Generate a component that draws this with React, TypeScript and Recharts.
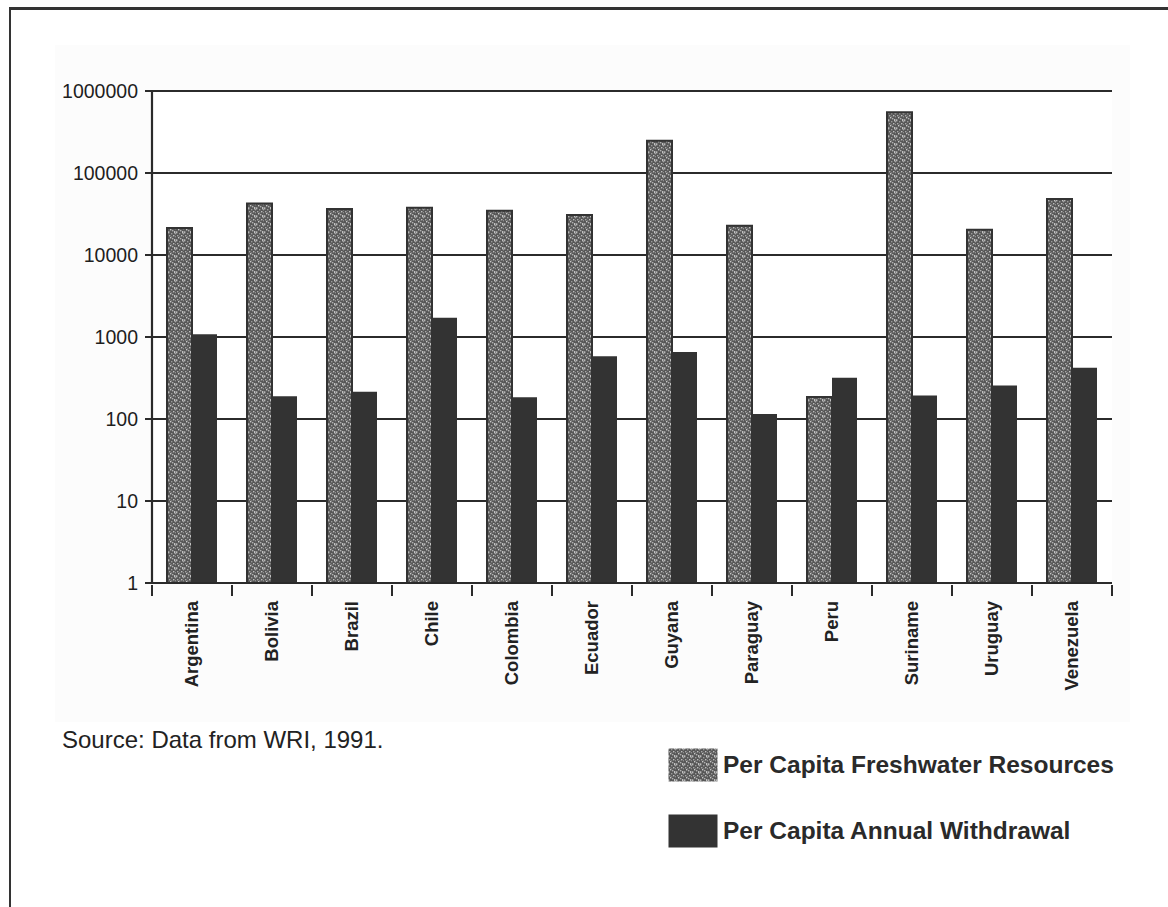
import React from "react";
import {
  BarChart,
  Bar,
  XAxis,
  YAxis,
  CartesianGrid,
} from "recharts";

// values (log scale)
const countries = [
  "Argentina",
  "Bolivia",
  "Brazil",
  "Chile",
  "Colombia",
  "Ecuador",
  "Guyana",
  "Paraguay",
  "Peru",
  "Suriname",
  "Uruguay",
  "Venezuela",
];
const freshwater = [21300, 42600, 36300, 37700, 34600, 30700, 248000, 22700, 186, 552000, 20300, 48100];
const withdrawal = [1080, 189, 215, 1720, 184, 584, 654, 115, 318, 193, 256, 422];
const yTicks = [1, 10, 100, 1000, 10000, 100000, 1000000];
const seriesNames = ["Per Capita Freshwater Resources", "Per Capita Annual Withdrawal"];
const sourceNote = "Source: Data from WRI, 1991.";

const data = countries.map((name, i) => ({
  name,
  fresh: freshwater[i],
  withdrawal: withdrawal[i],
}));

const W = 1168;
const H = 907;
const PLOT_LEFT = 152;
const PLOT_RIGHT = 1112;
const PLOT_TOP = 91;
const PLOT_BOTTOM = 583;
const X_AXIS_H = 130;
const HALF_BAND = (PLOT_RIGHT - PLOT_LEFT) / countries.length / 2;
const INK = "#2b2b2b";
const FONT = "Arial, 'Liberation Sans', sans-serif";

// speckle texture for the freshwater bars
const specks: [number, number, string][] = [
  [0, 0, "#b8b8b8"], [3, 1, "#9a9a9a"], [6, 0, "#c4c4c4"], [1, 3, "#a8a8a8"],
  [5, 3, "#bdbdbd"], [2, 5, "#c8c8c8"], [7, 4, "#8e8e8e"], [4, 6, "#b0b0b0"],
  [0, 7, "#9c9c9c"], [6, 7, "#c0c0c0"], [3, 4, "#7c7c7c"], [7, 1, "#a2a2a2"],
];

function Speckle({ id }: { id: string }) {
  return (
    <pattern id={id} width={8} height={8} patternUnits="userSpaceOnUse">
      <rect width={8} height={8} fill="#575757" />
      {specks.map(([x, y, c], i) => (
        <rect key={i} x={x} y={y} width={1.4} height={1.4} fill={c} />
      ))}
    </pattern>
  );
}

function CountryTick(props: any) {
  const { x, y, payload, index } = props;
  const last = index === countries.length - 1;
  return (
    <g>
      <line x1={x - HALF_BAND} x2={x - HALF_BAND} y1={y - 6} y2={y + 5} stroke={INK} strokeWidth={2} />
      {last && (
        <line x1={x + HALF_BAND} x2={x + HALF_BAND} y1={y - 6} y2={y + 5} stroke={INK} strokeWidth={2} />
      )}
      <text
        transform={`translate(${x + 6}, ${y + 10}) rotate(-90)`}
        textAnchor="end"
        fontFamily={FONT}
        fontWeight="bold"
        fontSize={18.5}
        fill="#222"
      >
        {payload.value}
      </text>
    </g>
  );
}

function LegendSwatch({ kind }: { kind: number }) {
  return (
    <svg width={50} height={34} style={{ display: "block" }}>
      <defs>
        <Speckle id="legendSpeckle" />
      </defs>
      <rect
        x={0.5}
        y={0.5}
        width={49}
        height={33}
        fill={kind === 0 ? "url(#legendSpeckle)" : "#333"}
      />
    </svg>
  );
}

export default function App() {
  return (
    <div
      style={{
        position: "absolute",
        left: 0,
        top: 0,
        width: W,
        height: H,
        background: "#fff",
        overflow: "hidden",
      }}
    >
      {/* faint scanned page behind the chart */}
      <div
        style={{
          position: "absolute",
          left: 55,
          top: 45,
          width: 1075,
          height: 677,
          background: "#fcfcfc",
        }}
      />
      <div
        style={{
          position: "absolute",
          left: 9,
          top: 7,
          width: W,
          height: H,
          borderTop: "3px solid #333",
          borderLeft: "2px solid #333",
        }}
      />
      <div style={{ position: "absolute", left: 0, top: 0 }}>
        <BarChart
          width={W}
          height={H}
          data={data}
          margin={{
            top: PLOT_TOP,
            right: W - PLOT_RIGHT,
            left: 0,
            bottom: H - PLOT_BOTTOM - X_AXIS_H,
          }}
          barGap={0}
        >
          <defs>
            <Speckle id="freshSpeckle" />
          </defs>
          <CartesianGrid vertical={false} stroke={INK} strokeWidth={2} fill="#fff" />
          <XAxis
            dataKey="name"
            height={X_AXIS_H}
            interval={0}
            tickLine={false}
            axisLine={{ stroke: INK, strokeWidth: 2 }}
            tick={<CountryTick />}
          />
          <YAxis
            scale="log"
            domain={[1, 1000000]}
            ticks={yTicks}
            allowDataOverflow
            width={PLOT_LEFT}
            tickSize={7}
            tickMargin={7}
            axisLine={{ stroke: INK, strokeWidth: 2.2 }}
            tickLine={{ stroke: INK, strokeWidth: 2 }}
            tick={{ fill: "#1e1e1e", fontSize: 19.5, fontFamily: FONT }}
          />
          <YAxis
            yAxisId="frame"
            orientation="right"
            scale="log"
            domain={[1, 1000000]}
            width={0}
            tick={false}
            tickLine={false}
            axisLine={{ stroke: INK, strokeWidth: 2 }}
          />
          <Bar
            dataKey="fresh"
            name={seriesNames[0]}
            barSize={25}
            fill="url(#freshSpeckle)"
            stroke="#333"
            strokeWidth={2}
            isAnimationActive={false}
          />
          <Bar
            dataKey="withdrawal"
            name={seriesNames[1]}
            barSize={25}
            fill="#333"
            isAnimationActive={false}
          />
        </BarChart>
      </div>

      <div
        style={{
          position: "absolute",
          left: 62,
          top: 726,
          fontFamily: FONT,
          fontSize: 24,
          color: "#222",
          whiteSpace: "nowrap",
        }}
      >
        {sourceNote}
      </div>

      {seriesNames.map((s, i) => (
        <div
          key={s}
          style={{
            position: "absolute",
            left: 668,
            top: i === 0 ? 748 : 814,
            display: "flex",
            alignItems: "center",
            gap: 5,
            fontFamily: FONT,
            fontWeight: "bold",
            fontSize: 24.5,
            color: "#2a2a2a",
            whiteSpace: "nowrap",
          }}
        >
          <LegendSwatch kind={i} />
          <span>{s}</span>
        </div>
      ))}
    </div>
  );
}
